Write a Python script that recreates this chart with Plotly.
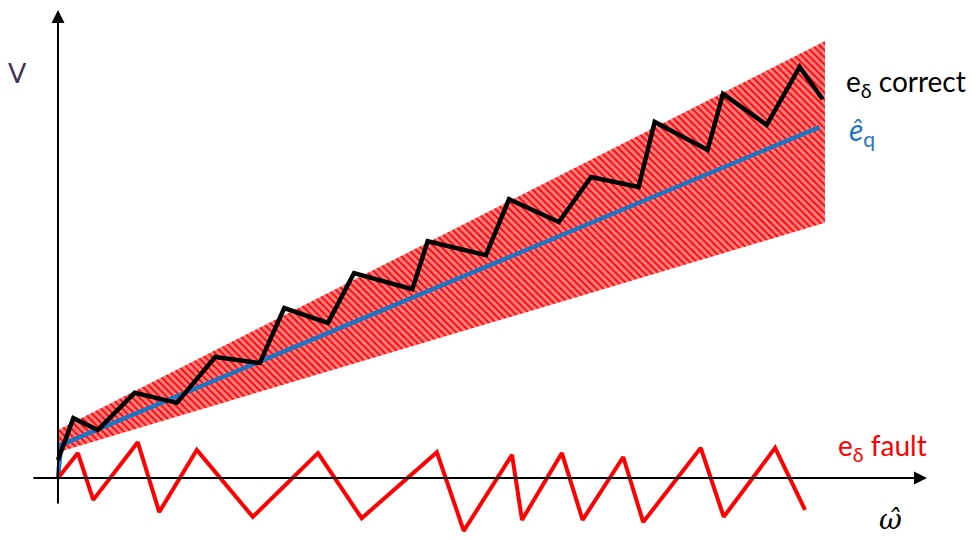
import plotly.graph_objects as go

# Speed axis (omega-hat) in arbitrary units, voltage axis (V) in arbitrary units
# Tolerance band around the estimated back-EMF
band_x_upper = [0.0, 100.0]
band_y_upper = [11.0, 100.0]
band_x_lower = [0.0, 100.0]
band_y_lower = [5.9, 58.4]

# Estimated back-EMF  ê_q
eq_hat_x = [0.0, 0.4, 99.3]
eq_hat_y = [0.0, 7.6, 80.3]

# Measured e_delta under correct operation (rides inside the band)
correct_x = [0.0, 2.0, 5.2, 10.0, 15.5, 20.5, 26.3, 29.5, 35.2, 38.6, 46.2, 48.2,
             55.8, 58.8, 65.3, 69.5, 75.7, 77.8, 84.7, 86.7, 92.4, 96.7, 99.7]
correct_y = [4.1, 13.7, 11.0, 19.5, 17.2, 27.7, 26.3, 38.9, 35.5, 46.9, 43.2, 54.2,
             51.0, 63.8, 58.6, 68.9, 66.6, 81.5, 75.1, 87.9, 80.8, 94.1, 86.7]

# Measured e_delta under fault (oscillates around zero)
fault_x = [0.0, 2.6, 4.6, 10.4, 13.2, 18.1, 25.4, 33.9, 39.6, 49.4, 52.9, 59.2,
           60.5, 65.7, 68.4, 73.7, 76.3, 83.8, 86.8, 93.5, 97.4]
fault_y = [0.0, 5.7, -5.0, 8.2, -7.8, 6.4, -8.9, 5.7, -9.2, 5.9, -12.1, 5.3,
           -9.6, 5.7, -9.6, 4.8, -10.1, 6.9, -8.9, 6.9, -7.3]

# Axis extents (tail -> arrow tip)
x_axis_span = [-3.4, 113.3]
y_axis_span = [-6.2, 107.1]

RED = "#FF0000"
BLUE = "#1F74C1"
FONT = "Lato, 'Open Sans', sans-serif"

fig = go.Figure()

# hatched tolerance band: white diagonal hatching on a red ground
poly_x = band_x_upper + band_x_lower[::-1]
poly_y = band_y_upper + band_y_lower[::-1]
fig.add_trace(go.Scatter(
    x=poly_x, y=poly_y, mode="none", fill="toself",
    fillcolor=RED,
    fillpattern=dict(shape="\\", fgcolor="white", bgcolor=RED, size=5, solidity=0.65),
    hoverinfo="skip", showlegend=False,
))

fig.add_trace(go.Scatter(x=eq_hat_x, y=eq_hat_y, mode="lines",
                         line=dict(color=BLUE, width=4.5), showlegend=False))
fig.add_trace(go.Scatter(x=correct_x, y=correct_y, mode="lines",
                         line=dict(color="black", width=4.5), showlegend=False))
fig.add_trace(go.Scatter(x=fault_x, y=fault_y, mode="lines",
                         line=dict(color=RED, width=4), showlegend=False))

# axes drawn as arrows
arrow_common = dict(xref="x", yref="y", axref="x", ayref="y", text="",
                    showarrow=True, arrowhead=2, arrowsize=1.3, arrowwidth=2,
                    arrowcolor="black")
fig.add_annotation(x=x_axis_span[1], y=0, ax=x_axis_span[0], ay=0, **arrow_common)
fig.add_annotation(x=0, y=y_axis_span[1], ax=0, ay=y_axis_span[0], **arrow_common)

# labels
fig.add_annotation(x=-5.3, y=92.9, text="V", showarrow=False,
                   font=dict(family=FONT, size=27, color="#3F3151"))
fig.add_annotation(x=108.6, y=-9.6, text="<i>ω̂</i>", showarrow=False,
                   font=dict(family="DejaVu Serif, serif", size=28, color="black"))
fig.add_annotation(x=102.5, y=90.5, text="e<sub>δ</sub> correct", showarrow=False,
                   xanchor="left", font=dict(family=FONT, size=28, color="black"))
fig.add_annotation(x=102.9, y=79.4, text="<i>ê</i><sub>q</sub>", showarrow=False,
                   xanchor="left", font=dict(family=FONT, size=30, color=BLUE))
fig.add_annotation(x=101.5, y=7.0, text="e<sub>δ</sub> fault", showarrow=False,
                   xanchor="left", font=dict(family=FONT, size=28, color=RED))

fig.update_layout(
    width=973, height=539,
    margin=dict(l=0, r=0, t=0, b=0),
    paper_bgcolor="white", plot_bgcolor="white",
    xaxis=dict(range=[-7.56, 119.3], visible=False, fixedrange=True),
    yaxis=dict(range=[-13.96, 109.4], visible=False, fixedrange=True),
    showlegend=False,
)

fig.write_html("out.html")
